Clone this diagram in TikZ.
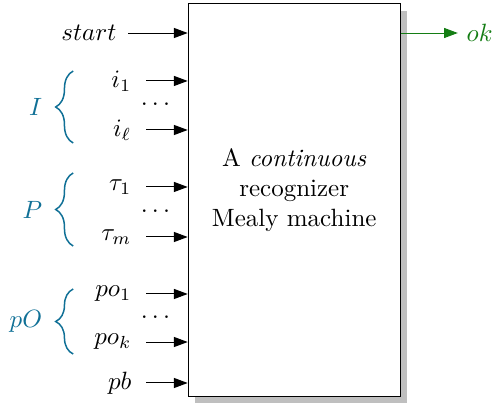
\documentclass[tikz,border=0pt]{standalone}
\usepackage{tikz}
\usetikzlibrary{arrows.meta,positioning,calc,shadows,decorations.pathreplacing}
\definecolor{grpteal}{RGB}{16,112,150}
\definecolor{okgreen}{RGB}{20,125,20}

\tikzset{
    inlbl/.style={anchor=east},
    inarrow/.style={->},
    grpbrace/.style={grpteal, semithick, decorate, decoration={brace, amplitude=7pt}},
    grplbl/.style={grpteal, midway, left=0.31cm}
}

\begin{document}
\begin{tikzpicture}[>={Triangle[length=5.5pt,width=4pt]}]
    \useasboundingbox (-4.135,-2.91) rectangle (2.78,2.811);

    % the machine
    \node[draw, fill=white, minimum width=2.98cm, minimum height=5.51cm,
          drop shadow={fill=black!25, opacity=1, shadow xshift=2.8pt, shadow yshift=-2.8pt}]
        (machine) at (0,0) {};
    \node[align=center] (mtext) at (0,0.14) {A \emph{continuous}\\recognizer\\Mealy machine};

    % inputs
    \node[inlbl] (start) at (-2.375,2.347) {$start$};
    \node[inlbl] (i1) at (-2.165,1.673) {$i_1$};
    \node[inlbl] (il) at (-2.165,0.984) {$i_\ell$};
    \node[inlbl] (tau1) at (-2.165,0.183) {$\tau_1$};
    \node[inlbl] (taum) at (-2.165,-0.520) {$\tau_m$};
    \node[inlbl] (po1) at (-2.165,-1.321) {$po_1$};
    \node[inlbl] (pok) at (-2.165,-1.996) {$po_k$};
    \node[inlbl] (pb) at (-2.165,-2.572) {$pb$};

    \node (idots) at (-1.95,1.34) {$\dots$};
    \node (taudots) at (-1.95,-0.16) {$\dots$};
    \node (podots) at (-1.95,-1.65) {$\dots$};

    \draw[inarrow] ([xshift=1.2pt]start.east) -- (start.east -| machine.west);
    \foreach \n in {i1,il,tau1,taum,po1,pok,pb} {
        \draw[inarrow] ([xshift=2.4pt]\n.east) -- (\n.east -| machine.west);
    }

    % groups
    \draw[grpbrace] (-3.106,0.801) -- (-3.106,1.813) node[grplbl] (I) {$I$};
    \draw[grpbrace] (-3.106,-0.647) -- (-3.106,0.380) node[grplbl] (P) {$P$};
    \draw[grpbrace] (-3.106,-2.165) -- (-3.106,-1.251) node[grplbl] (pO) {$pO$};

    % output
    \node[okgreen, anchor=west] (ok) at (2.30,2.347) {$ok$};
    \draw[->, okgreen] (machine.east |- ok) -- (ok.west);

\end{tikzpicture}
\end{document}
